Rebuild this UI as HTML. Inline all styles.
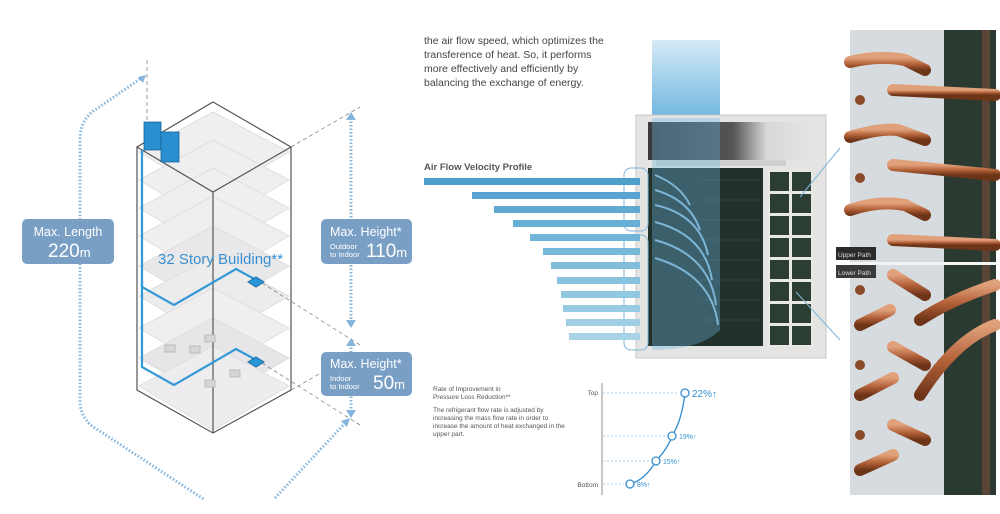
<!DOCTYPE html>
<html><head><style>
html,body{margin:0;padding:0;background:#fff}
svg{display:block;font-family:"Liberation Sans",sans-serif}
</style></head><body>
<svg width="1000" height="514" viewBox="0 0 1000 514">
<defs>
<linearGradient id="cu" x1="0" y1="0" x2="0" y2="1"><stop offset="0" stop-color="#e0a07a"/><stop offset=".5" stop-color="#b4633a"/><stop offset="1" stop-color="#6e3418"/></linearGradient>
<linearGradient id="sky" x1="0" y1="0" x2="0" y2="1"><stop offset="0" stop-color="#d6ebf7"/><stop offset="1" stop-color="#6fb6e0"/></linearGradient>
<linearGradient id="top" x1="0" y1="0" x2="1" y2="0"><stop offset="0" stop-color="#3a3a3a"/><stop offset=".5" stop-color="#555"/><stop offset=".7" stop-color="#d8d8d6"/><stop offset="1" stop-color="#e6e6e4"/></linearGradient>
</defs>
<!-- LEFT building floors -->
<g fill="#eeeeef" stroke="#dcdcde" stroke-width="1" opacity=".9">
<polygon points="213,112 289,152 213,196 139,152"/>
<polygon points="213,140 289,180 213,224 139,180"/>
<polygon points="213,168 289,208 213,252 139,208"/>
<polygon points="213,196 289,236 213,280 139,236"/>
<polygon points="213,226 289,266 213,310 139,266" fill="#e6e6e8"/>
<polygon points="213,256 289,296 213,340 139,296" fill="#eaeaec"/>
<polygon points="213,288 289,328 213,372 139,328"/>
<polygon points="213,318 289,358 213,402 139,358" fill="#e4e4e6"/>
<polygon points="213,346 289,386 213,430 139,386" fill="#ececee"/>
</g>
<g fill="none" stroke="#555" stroke-width="1.2">
<polygon points="213,102 291,147 213,192 137,147"/>
<line x1="213" y1="192" x2="213" y2="433"/>
<polyline points="137,147 137,390 213,433 291,390 291,147"/>
</g>
<g stroke="#888" stroke-width=".8" stroke-dasharray="4,3" fill="none">
<line x1="147" y1="60" x2="147" y2="150"/>
<line x1="291" y1="147" x2="360" y2="107"/>
<line x1="291" y1="390" x2="358" y2="352"/>
<line x1="262" y1="283" x2="360" y2="345"/>
<line x1="262" y1="363" x2="360" y2="425"/>
</g>
<g fill="#d6d6d8" stroke="#bbb"><rect x="165" y="345" width="10" height="7"/><rect x="190" y="346" width="10" height="7"/><rect x="205" y="335" width="10" height="7"/><rect x="230" y="370" width="10" height="7"/><rect x="205" y="380" width="10" height="7"/></g>
<g stroke="#3598d6" stroke-width="2.2" fill="none">
<polyline points="142,150 142,287 174,305 236,269 258,281"/>
<polyline points="142,280 142,367 174,385 236,349 258,361"/>
</g>
<polygon points="248,282 256,277 264,282 256,287" fill="#2a96d8" stroke="#1a6fa8"/>
<polygon points="248,362 256,357 264,362 256,367" fill="#2a96d8" stroke="#1a6fa8"/>
<g fill="#2a8fd0" stroke="#17649a" stroke-width=".8">
<rect x="144" y="122" width="17" height="28"/><rect x="161" y="132" width="18" height="30"/>
</g>
<path d="M143,77 L92,112 Q80,122 80,140 L80,400 Q80,416 92,426 L205,500 M275,498 L347,421" fill="none" stroke="#86b6de" stroke-width="3" stroke-dasharray="1.5,2"/>
<polygon points="146,75 138,77 143,83" fill="#86b6de"/>
<polygon points="350,418 341,421 347,427" fill="#86b6de"/>
<line x1="351" y1="118" x2="351" y2="322" stroke="#86b6de" stroke-width="3" stroke-dasharray="1.5,2"/>
<polygon points="351,112 346,120 356,120" fill="#86b6de"/><polygon points="351,328 346,320 356,320" fill="#86b6de"/>
<line x1="351" y1="344" x2="351" y2="412" stroke="#86b6de" stroke-width="3" stroke-dasharray="1.5,2"/>
<polygon points="351,338 346,346 356,346" fill="#86b6de"/><polygon points="351,418 346,410 356,410" fill="#86b6de"/>
<text x="158" y="264" font-size="15" fill="#3a8fd0">32 Story Building**</text>
<rect x="22" y="219" width="92" height="45" rx="5" fill="#7a9fc5"/>
<text x="68" y="236" font-size="12.5" fill="#fff" text-anchor="middle">Max. Length</text>
<text x="48" y="257" font-size="19" fill="#fff">220<tspan font-size="13">m</tspan></text>
<rect x="321" y="219" width="91" height="45" rx="5" fill="#7a9fc5"/>
<text x="330" y="236" font-size="12.5" fill="#fff">Max. Height*</text>
<text x="330" y="249" font-size="7.5" fill="#fff">Outdoor</text><text x="330" y="257" font-size="7.5" fill="#fff">to Indoor</text>
<text x="366" y="257" font-size="19" fill="#fff">110<tspan font-size="13">m</tspan></text>
<rect x="321" y="352" width="91" height="44" rx="5" fill="#7a9fc5"/>
<text x="330" y="368" font-size="12.5" fill="#fff">Max. Height*</text>
<text x="330" y="381" font-size="7.5" fill="#fff">Indoor</text><text x="330" y="389" font-size="7.5" fill="#fff">to Indoor</text>
<text x="373" y="389" font-size="19" fill="#fff">50<tspan font-size="13">m</tspan></text>
<!-- MIDDLE -->
<g font-size="10.5" fill="#444"><text x="424" y="44">the air flow speed, which optimizes the</text><text x="424" y="58">transference of heat. So, it performs</text><text x="424" y="72">more effectively and efficiently by</text><text x="424" y="86">balancing the exchange of energy.</text></g>
<rect x="652" y="40" width="68" height="78" fill="url(#sky)"/>
<rect x="636" y="115" width="190" height="243" fill="#e4e4e2" stroke="#c8c8c6"/>
<rect x="648" y="122" width="170" height="38" fill="url(#top)"/>
<rect x="656" y="160" width="130" height="6" fill="#cfcfcd"/>
<rect x="648" y="168" width="115" height="178" fill="#22302a"/>
<g stroke="#3a4a42" stroke-width=".7">
<line x1="700" y1="180" x2="760" y2="180"/><line x1="700" y1="200" x2="760" y2="200"/><line x1="700" y1="220" x2="760" y2="220"/><line x1="700" y1="240" x2="760" y2="240"/><line x1="700" y1="260" x2="760" y2="260"/><line x1="700" y1="280" x2="760" y2="280"/><line x1="700" y1="300" x2="760" y2="300"/><line x1="700" y1="320" x2="760" y2="320"/>
</g>
<g fill="#2c3d33" stroke="#e8e8e6" stroke-width="2">
<rect x="769" y="171" width="21" height="21"/><rect x="791" y="171" width="21" height="21"/>
<rect x="769" y="193" width="21" height="21"/><rect x="791" y="193" width="21" height="21"/>
<rect x="769" y="215" width="21" height="21"/><rect x="791" y="215" width="21" height="21"/>
<rect x="769" y="237" width="21" height="21"/><rect x="791" y="237" width="21" height="21"/>
<rect x="769" y="259" width="21" height="21"/><rect x="791" y="259" width="21" height="21"/>
<rect x="769" y="281" width="21" height="21"/><rect x="791" y="281" width="21" height="21"/>
<rect x="769" y="303" width="21" height="21"/><rect x="791" y="303" width="21" height="21"/>
<rect x="769" y="325" width="21" height="21"/><rect x="791" y="325" width="21" height="21"/>
</g>
<path d="M652,118 L720,118 L720,330 Q700,350 652,350 Z" fill="#6ab8e6" opacity=".35"/>
<g fill="none" stroke="#8ccaf0" stroke-width="2" opacity=".8">
<path d="M655,175 Q680,185 690,205"/><path d="M655,190 Q690,200 700,230"/><path d="M655,205 Q700,215 708,255"/><path d="M655,222 Q705,235 712,280"/><path d="M655,240 Q710,255 716,305"/><path d="M655,258 Q712,275 718,325"/>
</g>
<rect x="624" y="168" width="24" height="63" rx="7" fill="none" stroke="#7fb6da"/>
<rect x="624" y="235" width="24" height="115" rx="7" fill="none" stroke="#7fb6da"/>
<line x1="800" y1="197" x2="840" y2="148" stroke="#7fb6da"/><line x1="796" y1="292" x2="840" y2="340" stroke="#7fb6da"/>
<text x="424" y="170" font-size="9.5" font-weight="bold" fill="#555">Air Flow Velocity Profile</text>
<g>
<rect x="424" y="178" width="216" height="7" fill="#4f9fcb"/>
<rect x="472" y="192" width="168" height="7" fill="#56a4cf"/>
<rect x="494" y="206" width="146" height="7" fill="#60aad2"/>
<rect x="513" y="220" width="127" height="7" fill="#68afd5"/>
<rect x="530" y="234" width="110" height="7" fill="#70b4d8"/>
<rect x="543" y="248" width="97" height="7" fill="#78b9da"/>
<rect x="551" y="262" width="89" height="7" fill="#80bedc"/>
<rect x="557" y="277" width="83" height="7" fill="#88c2de"/>
<rect x="561" y="291" width="79" height="7" fill="#90c7e1"/>
<rect x="563" y="305" width="77" height="7" fill="#98cbe3"/>
<rect x="566" y="319" width="74" height="7" fill="#a0cfe5"/>
<rect x="569" y="333" width="71" height="7" fill="#a8d3e7"/>
</g>
<g font-size="6.5" fill="#555">
<text x="433" y="391">Rate of Improvement in</text><text x="433" y="399">Pressure Loss Reduction**</text>
<text x="433" y="412">The refrigerant flow rate is adjusted by</text><text x="433" y="420">increasing the mass flow rate in order to</text><text x="433" y="428">increase the amount of heat exchanged in the</text><text x="433" y="436">upper part.</text>
<text x="598" y="395" text-anchor="end">Top</text><text x="598" y="487" text-anchor="end">Bottom</text>
</g>
<line x1="602" y1="383" x2="602" y2="495" stroke="#777" stroke-width=".8"/>
<g stroke="#8cc0e6" stroke-width=".8" stroke-dasharray="2,2">
<line x1="603" y1="393" x2="679" y2="393"/><line x1="603" y1="436" x2="666" y2="436"/><line x1="603" y1="461" x2="650" y2="461"/><line x1="603" y1="484" x2="624" y2="484"/>
</g>
<path d="M630,484 Q645,480 656,461 Q668,448 672,436 Q682,420 685,393" fill="none" stroke="#3590d0" stroke-width="1.3"/>
<g fill="#fff" stroke="#3590d0" stroke-width="1.3"><circle cx="685" cy="393" r="4"/><circle cx="672" cy="436" r="4"/><circle cx="656" cy="461" r="4"/><circle cx="630" cy="484" r="4"/></g>
<g fill="#3590d0"><text x="692" y="397" font-size="10">22%↑</text><text x="679" y="439" font-size="7">19%↑</text><text x="663" y="464" font-size="7">15%↑</text><text x="637" y="487" font-size="7">8%↑</text></g>
<!-- RIGHT photo -->
<rect x="850" y="30" width="94" height="465" fill="#d6dbdf"/>
<rect x="944" y="30" width="52" height="465" fill="#2b3a31"/>
<rect x="982" y="30" width="8" height="465" fill="#5a4436"/>
<rect x="850" y="262" width="146" height="3" fill="#f4f4f4"/>
<g fill="none" stroke="url(#cu)" stroke-width="12" stroke-linecap="round">
<path d="M850,62 Q880,55 905,60 L925,70"/><path d="M893,90 L995,95"/>
<path d="M850,137 Q880,128 898,130 L925,140"/><path d="M893,165 L995,175"/>
<path d="M850,210 Q880,200 905,205 L925,215"/><path d="M893,240 L995,245"/>
<path d="M893,275 L925,295"/><path d="M860,325 L890,310"/><path d="M920,320 Q950,300 995,285"/>
<path d="M893,347 L925,365"/><path d="M860,395 L893,378"/><path d="M920,395 Q955,340 995,325"/>
<path d="M893,425 L925,440"/><path d="M860,470 L893,455"/><path d="M920,475 L995,475"/>
</g>
<g fill="#8a4a2a"><circle cx="860" cy="100" r="5"/><circle cx="860" cy="178" r="5"/><circle cx="860" cy="290" r="5"/><circle cx="860" cy="365" r="5"/><circle cx="860" cy="435" r="5"/></g>
<rect x="836" y="247" width="40" height="13" fill="#2b2b2b"/><text x="838" y="257" font-size="6.5" fill="#ddd">Upper Path</text>
<rect x="836" y="265" width="40" height="13" fill="#3a3a3a"/><text x="838" y="275" font-size="6.5" fill="#ddd">Lower Path</text>
</svg>
</body></html>
